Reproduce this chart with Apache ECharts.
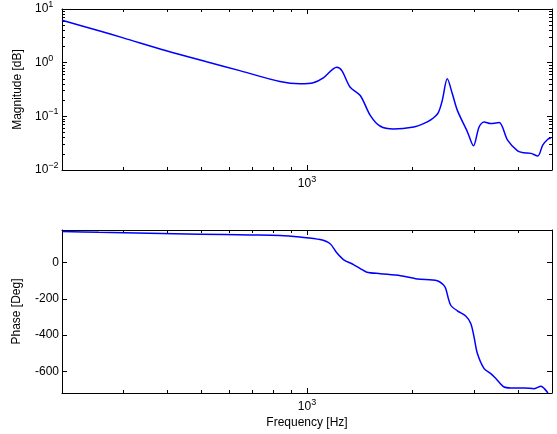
<!DOCTYPE html>
<html><head><meta charset="utf-8">
<script src="https://cdn.jsdelivr.net/npm/echarts@6/dist/echarts.min.js"></script>
<style>html,body{margin:0;padding:0;background:#fff}#c{width:557px;height:434px}</style>
</head><body><div id="c"></div>
<script>
const freqMag = [200,255,299,397,517,643,837,955,1042,1113,1216,1257,1328,1419,1515,1619,1767,2017,2150,2260,2365,2432,2513,2598,2685,2869,2985,3097,3201,3344,3533,3734,3988,4166,4356,4552,4705,4863,4970];
const magnitude = [6.18,3.92,2.90,1.67,1.04,0.711,0.445,0.403,0.421,0.521,0.819,0.711,0.349,0.245,0.1044,0.0653,0.0582,0.0634,0.073,0.087,0.115,0.198,0.499,0.263,0.129,0.0512,0.0282,0.0634,0.0784,0.0733,0.0764,0.0360,0.0228,0.0209,0.0204,0.0182,0.0290,0.0375,0.040];
const freqPhase = [200,255,355,494,687,837,955,1090,1164,1216,1270,1357,1419,1482,1619,1848,2063,2353,2449,2486,2569,2685,2836,2932,2996,3063,3201,3345,3457,3651,3817,4168,4451,4652,4755,4870];
const phaseDeg = [172,167,162,157,153,150,141,127,104,54,17,-11,-33,-53,-61,-72,-90,-100,-122,-142,-234,-266,-295,-336,-410,-502,-585,-613,-640,-687,-692,-692,-696,-683,-696,-720];
const xMajorTicks = [1000];
const xMinorTicks = [300,400,500,600,700,800,900,2000,3000,4000];
const magMajorTicks = [0.01,0.1,1,10];
const magMinorTicks = [0.02,0.03,0.04,0.05,0.06,0.07,0.08,0.09,0.2,0.3,0.4,0.5,0.6,0.7,0.8,0.9,2,3,4,5,6,7,8,9];
const phaseTicks = [-600,-400,-200,0];
const xName = 'Frequency [Hz]';
const magName = 'Magnitude [dB]';
const phaseName = 'Phase [Deg]';

const FONT = 'Liberation Sans, Arial, Helvetica, sans-serif';
const rich = {
  b: {fontSize: 12, fontFamily: FONT, color: '#000'},
  s: {fontSize: 9, fontFamily: FONT, color: '#000', padding: [0, 0, 9, 0]}
};
function pow10(v) {
  const e = Math.round(Math.log10(v));
  return '{b|10}{s|' + String(e).replace('-', '\u2212') + '}';
}
const line = {show: true, onZero: false, lineStyle: {color: '#000', width: 1}};
const noLine = {show: false, onZero: false};
function xAx(grid, pos, ticks, len, labels, extra) {
  return Object.assign({
    type: 'log', logBase: 10, gridIndex: grid, position: pos, min: 200, max: 5000,
    axisLine: labels === null ? noLine : line,
    splitLine: {show: false},
    axisTick: {show: true, inside: true, length: len, customValues: ticks, lineStyle: {color: '#000', width: 1}},
    axisLabel: labels ? {show: true, customValues: labels, formatter: pow10, rich: rich, margin: 5} : {show: false}
  }, extra || {});
}
function yLog(grid, pos, ticks, len, labels, showLine, extra) {
  return Object.assign({
    type: 'log', logBase: 10, gridIndex: grid, position: pos, min: 0.01, max: 10,
    axisLine: showLine ? line : noLine,
    splitLine: {show: false},
    axisTick: {show: true, inside: true, length: len, customValues: ticks, lineStyle: {color: '#000', width: 1}},
    axisLabel: labels ? {show: true, customValues: labels, formatter: pow10, rich: rich, align: 'left', margin: 27} : {show: false}
  }, extra || {});
}
function yLin(grid, pos, labels, extra) {
  return Object.assign({
    type: 'value', gridIndex: grid, position: pos, min: -720, max: 180,
    axisLine: line, splitLine: {show: false},
    axisTick: {show: true, inside: true, length: 5, customValues: phaseTicks, lineStyle: {color: '#000', width: 1}},
    axisLabel: labels ? {show: true, customValues: phaseTicks, fontSize: 12, fontFamily: FONT, color: '#000', margin: 3} : {show: false}
  }, extra || {});
}

const chart = echarts.init(document.getElementById('c'), null, {renderer: 'canvas'});
chart.setOption({
  animation: false,
  backgroundColor: '#fff',
  grid: [
    {left: 62, right: 5, top: 8, height: 162},
    {left: 62, right: 5, top: 230, height: 163}
  ],
  xAxis: [
    xAx(0, 'bottom', xMajorTicks, 5, xMajorTicks),
    xAx(0, 'top', xMajorTicks, 5, false),
    xAx(0, 'bottom', xMinorTicks, 3, null),
    xAx(0, 'top', xMinorTicks, 3, null),
    xAx(1, 'bottom', xMajorTicks, 5, xMajorTicks, {
      name: xName, nameLocation: 'middle', nameGap: 24,
      nameTextStyle: {fontSize: 12, fontFamily: FONT, color: '#000'}
    }),
    xAx(1, 'top', xMajorTicks, 5, false),
    xAx(1, 'bottom', xMinorTicks, 3, null),
    xAx(1, 'top', xMinorTicks, 3, null)
  ],
  yAxis: [
    yLog(0, 'left', magMajorTicks, 5, magMajorTicks, true, {
      name: magName, nameLocation: 'middle', nameGap: 32,
      nameTextStyle: {fontSize: 12, fontFamily: FONT, color: '#000'}
    }),
    yLog(0, 'right', magMajorTicks, 5, false, true),
    yLog(0, 'left', magMinorTicks, 3, false, false),
    yLog(0, 'right', magMinorTicks, 3, false, false),
    yLin(1, 'left', true, {
      name: phaseName, nameLocation: 'middle', nameGap: 39,
      nameTextStyle: {fontSize: 12, fontFamily: FONT, color: '#000'}
    }),
    yLin(1, 'right', false)
  ],
  series: [
    {
      type: 'line', xAxisIndex: 0, yAxisIndex: 0, showSymbol: false, smooth: 0.3, clip: true,
      lineStyle: {color: '#0000ff', width: 1.5},
      data: freqMag.map((f, i) => [f, magnitude[i]])
    },
    {
      type: 'line', xAxisIndex: 4, yAxisIndex: 4, showSymbol: false, smooth: 0.3, clip: true,
      lineStyle: {color: '#0000ff', width: 1.5},
      data: freqPhase.map((f, i) => [f, phaseDeg[i]])
    }
  ]
});
</script></body></html>
